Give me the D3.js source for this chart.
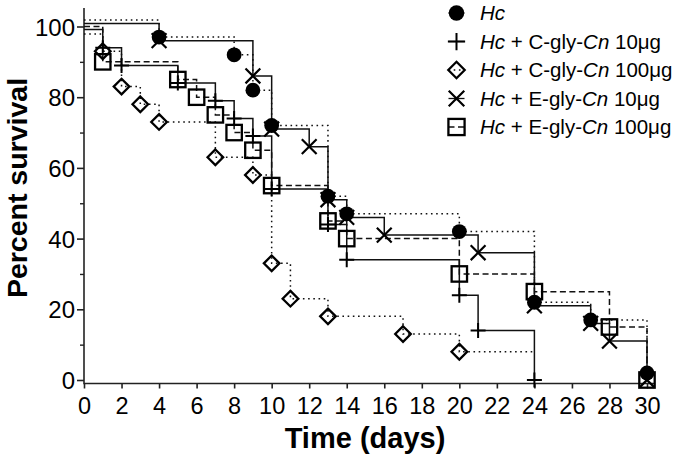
<!DOCTYPE html>
<html>
<head>
<meta charset="utf-8">
<script src="https://cdn.jsdelivr.net/npm/d3@7"></script>
<style>
  html, body { margin: 0; padding: 0; background: #fff; }
  svg { display: block; }
  text { font-family: "Liberation Sans", Arial, Helvetica, sans-serif; fill: #000; white-space: pre; }
</style>
</head>
<body>
<svg id="chart" width="675" height="461"></svg>
<script>
// ---------------- data ----------------
const xTicks = [0,2,4,6,8,10,12,14,16,18,20,22,24,26,28,30];
const yTicks = [0,20,40,60,80,100];
const yMinorTicks = [10,30,50,70,90];

const hcDays   = [4,8,9,10,13,14,20,24,27,30];
const hcSurv   = [97,92,82,72,52,47,42,22,17,2];

const c10Days  = [1,2,5,7,8,9,10,13,14,20,21,24];
const c10Surv  = [94,89,84,79,74,69,54,44,34,24,14,0];

const c100Days = [1,2,3,4,7,9,10,11,13,17,20];
const c100Surv = [93,83,78,73,63,58,33,23,18,13,8];
const c100LastDay = 24;   // follow-up ends (censored)

const e10Days  = [4,9,10,12,13,14,16,21,24,27,28,30];
const e10Surv  = [96,86,71,66,51,46,41,36,21,16,11,0];

const e100Days = [1,5,6,7,8,9,10,13,14,20,24,28,30];
const e100Surv = [90,85,80,75,70,65,55,45,40,30,25,15,0];

const seriesNames = [
  ["Hc", ""],
  ["Hc", " + C-gly-", "Cn", " 10μg"],
  ["Hc", " + C-gly-", "Cn", " 100μg"],
  ["Hc", " + E-gly-", "Cn", " 10μg"],
  ["Hc", " + E-gly-", "Cn", " 100μg"]
];

// ---------------- styles ----------------
const styles = [
  { key: "hc",   marker: "circle",  dash: "1.6,3.6", startOffset: -6.5 },
  { key: "c10",  marker: "plus",    dash: null,      startOffset: 3 },
  { key: "c100", marker: "diamond", dash: "1.6,3.6", startOffset: 7.5 },
  { key: "e10",  marker: "cross",   dash: null,      startOffset: -3 },
  { key: "e100", marker: "square",  dash: "6,3.5",   startOffset: 0 }
];

function buildSeries(days, surv, lastDay) {
  const pts = [{t: 0, v: 100, ev: false}];
  days.forEach((d, i) => pts.push({t: d, v: surv[i], ev: true}));
  if (lastDay != null) pts.push({t: lastDay, v: surv[surv.length - 1], ev: false});
  return pts;
}
const allSeries = [
  buildSeries(hcDays, hcSurv),
  buildSeries(c10Days, c10Surv),
  buildSeries(c100Days, c100Surv, c100LastDay),
  buildSeries(e10Days, e10Surv),
  buildSeries(e100Days, e100Surv)
];

// ---------------- layout ----------------
const svg = d3.select("#chart");
const x = d3.scaleLinear().domain([0, 30]).range([84, 647]);
const y = d3.scaleLinear().domain([0, 100]).range([380, 26.5]);
const axisY = 383.5;      // x-axis line position
const axisTop = 8;
const axisRight = 655;

const g = svg.append("g");

// y axis
const yAxis = d3.axisLeft(y).tickValues(yTicks).tickSize(7).tickPadding(2).tickFormat(d3.format("d"));
const yg = g.append("g").attr("transform", "translate(84,0)").call(yAxis);
yg.select(".domain").remove();
yg.selectAll(".tick line").attr("stroke", "#222").attr("stroke-width", 1.6);
yg.selectAll(".tick text").style("font-size", "24px").attr("fill", "#000").attr("dy", "0.36em");
const yMinor = d3.axisLeft(y).tickValues(yMinorTicks).tickSize(4).tickFormat("");
const ymg = g.append("g").attr("transform", "translate(84,0)").call(yMinor);
ymg.select(".domain").remove();
ymg.selectAll(".tick line").attr("stroke", "#222").attr("stroke-width", 1.4);
g.append("line").attr("x1", 84).attr("x2", 84).attr("y1", axisTop).attr("y2", axisY + 0.8)
  .attr("stroke", "#222").attr("stroke-width", 1.6);

// x axis
const xAxis = d3.axisBottom(x).tickValues(xTicks).tickSize(5).tickPadding(9).tickFormat(d3.format("d"));
const xg = g.append("g").attr("transform", `translate(0,${axisY})`).call(xAxis);
xg.select(".domain").remove();
xg.selectAll(".tick line").attr("stroke", "#222").attr("stroke-width", 1.6);
xg.selectAll(".tick text").style("font-size", "23.5px").attr("fill", "#000");
g.append("line").attr("x1", 84).attr("x2", axisRight).attr("y1", axisY).attr("y2", axisY)
  .attr("stroke", "#222").attr("stroke-width", 1.6);

// axis titles
svg.append("text").attr("x", 365).attr("y", 448).attr("text-anchor", "middle")
  .style("font-size", "29px").style("font-weight", "bold").text("Time (days)");
svg.append("text").attr("transform", "translate(27,188) rotate(-90)").attr("text-anchor", "middle")
  .style("font-size", "28.5px").style("font-weight", "bold").text("Percent survival");

// ---------------- lines ----------------
const drawOrder = [4, 3, 2, 1, 0];
drawOrder.forEach(si => {
  const st = styles[si];
  const line = d3.line()
    .x(d => x(d.t))
    .y((d, i) => y(d.v) + (i === 0 ? st.startOffset : 0))
    .curve(d3.curveStepAfter);
  g.append("path").datum(allSeries[si]).attr("d", line)
    .attr("fill", "none").attr("stroke", "#111").attr("stroke-width", 1.5)
    .attr("stroke-dasharray", st.dash);
});

// ---------------- markers ----------------
function drawMarker(sel, type, cx, cy, scale = 1) {
  const s = scale;
  if (type === "circle") {
    sel.append("circle").attr("cx", cx).attr("cy", cy).attr("r", 7.4 * s).attr("fill", "#000");
  } else if (type === "plus") {
    sel.append("path").attr("d", `M${cx - 7.5 * s},${cy}H${cx + 7.5 * s}M${cx},${cy - 7.5 * s}V${cy + 7.5 * s}`)
      .attr("stroke", "#000").attr("stroke-width", 2).attr("fill", "none");
  } else if (type === "cross") {
    const a = 7.4 * s;
    sel.append("path").attr("d", `M${cx - a},${cy - a}L${cx + a},${cy + a}M${cx - a},${cy + a}L${cx + a},${cy - a}`)
      .attr("stroke", "#000").attr("stroke-width", 2.2).attr("fill", "none");
  } else if (type === "diamond") {
    const a = 7.8 * s;
    sel.append("path").attr("d", `M${cx},${cy - a}L${cx + a},${cy}L${cx},${cy + a}L${cx - a},${cy}Z`)
      .attr("stroke", "#000").attr("stroke-width", 2.3).attr("fill", "none");
  } else if (type === "square") {
    const a = 7.7 * s;
    sel.append("rect").attr("x", cx - a).attr("y", cy - a).attr("width", 2 * a).attr("height", 2 * a)
      .attr("stroke", "#000").attr("stroke-width", 2.3).attr("fill", "none");
  }
}
drawOrder.forEach(si => {
  const st = styles[si];
  const mg = g.append("g");
  allSeries[si].filter(d => d.ev).forEach(d => drawMarker(mg, st.marker, x(d.t), y(d.v)));
});

// ---------------- legend ----------------
const leg = svg.append("g");
const legX = 456.5, legTextX = 480, legY0 = 13, legDy = 28.5;
styles.forEach((st, i) => {
  const cy = legY0 + i * legDy;
  const lg = leg.append("g");
  lg.append("line").attr("x1", legX - 8).attr("x2", legX + 8).attr("y1", cy).attr("y2", cy)
    .attr("stroke", "#111").attr("stroke-width", 1.3).attr("stroke-dasharray", st.dash);
  drawMarker(lg, st.marker, legX, cy, st.marker === "plus" ? 1.15 : 1.05);
  const t = lg.append("text").attr("x", legTextX).attr("y", cy + 7).style("font-size", "20.5px");
  seriesNames[i].forEach((part, k) => {
    if (!part) return;
    t.append("tspan").style("font-style", k % 2 === 0 ? "italic" : "normal").text(part);
  });
});
</script>
</body>
</html>
